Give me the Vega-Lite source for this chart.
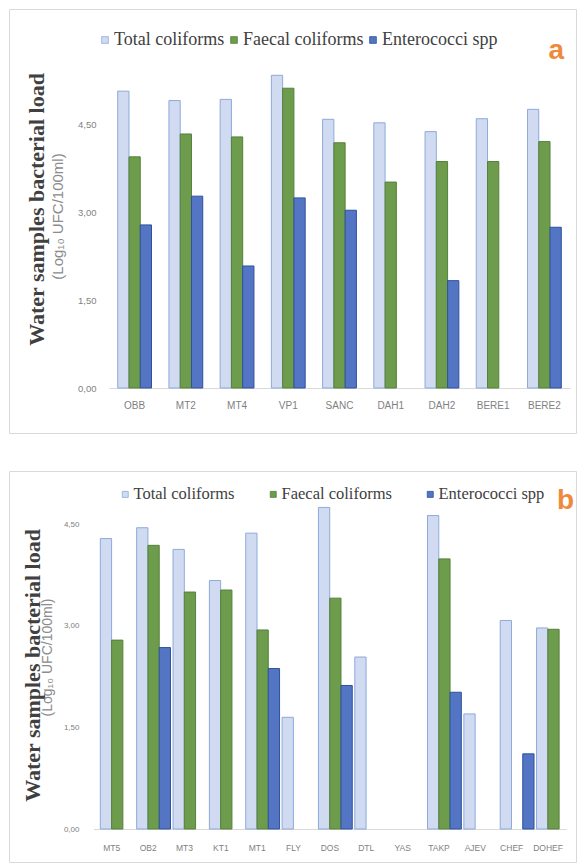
{
  "$schema": "https://vega.github.io/schema/vega-lite/v6.json",
  "background": "white",
  "padding": {"left": 8, "top": 8, "right": 0, "bottom": 0},
  "spacing": 36,
  "resolve": {"scale": {"fill": "independent", "stroke": "independent"}, "legend": {"fill": "independent", "stroke": "independent"}},
  "datasets": {
    "a": [
      {"site": "OBB", "type": "Total coliforms", "value": 5.06},
      {"site": "OBB", "type": "Faecal coliforms", "value": 3.94},
      {"site": "OBB", "type": "Enterococci spp", "value": 2.78},
      {"site": "MT2", "type": "Total coliforms", "value": 4.90},
      {"site": "MT2", "type": "Faecal coliforms", "value": 4.33},
      {"site": "MT2", "type": "Enterococci spp", "value": 3.27},
      {"site": "MT4", "type": "Total coliforms", "value": 4.92},
      {"site": "MT4", "type": "Faecal coliforms", "value": 4.28},
      {"site": "MT4", "type": "Enterococci spp", "value": 2.08},
      {"site": "VP1", "type": "Total coliforms", "value": 5.33},
      {"site": "VP1", "type": "Faecal coliforms", "value": 5.11},
      {"site": "VP1", "type": "Enterococci spp", "value": 3.24},
      {"site": "SANC", "type": "Total coliforms", "value": 4.58},
      {"site": "SANC", "type": "Faecal coliforms", "value": 4.18},
      {"site": "SANC", "type": "Enterococci spp", "value": 3.03},
      {"site": "DAH1", "type": "Total coliforms", "value": 4.52},
      {"site": "DAH1", "type": "Faecal coliforms", "value": 3.51},
      {"site": "DAH2", "type": "Total coliforms", "value": 4.37},
      {"site": "DAH2", "type": "Faecal coliforms", "value": 3.86},
      {"site": "DAH2", "type": "Enterococci spp", "value": 1.83},
      {"site": "BERE1", "type": "Total coliforms", "value": 4.59},
      {"site": "BERE1", "type": "Faecal coliforms", "value": 3.86},
      {"site": "BERE2", "type": "Total coliforms", "value": 4.75},
      {"site": "BERE2", "type": "Faecal coliforms", "value": 4.20},
      {"site": "BERE2", "type": "Enterococci spp", "value": 2.74}
    ],
    "b": [
      {"site": "MT5", "type": "Total coliforms", "value": 4.29},
      {"site": "MT5", "type": "Faecal coliforms", "value": 2.79},
      {"site": "OB2", "type": "Total coliforms", "value": 4.45},
      {"site": "OB2", "type": "Faecal coliforms", "value": 4.19},
      {"site": "OB2", "type": "Enterococci spp", "value": 2.68},
      {"site": "MT3", "type": "Total coliforms", "value": 4.13},
      {"site": "MT3", "type": "Faecal coliforms", "value": 3.50},
      {"site": "KT1", "type": "Total coliforms", "value": 3.67},
      {"site": "KT1", "type": "Faecal coliforms", "value": 3.53},
      {"site": "MT1", "type": "Total coliforms", "value": 4.37},
      {"site": "MT1", "type": "Faecal coliforms", "value": 2.94},
      {"site": "MT1", "type": "Enterococci spp", "value": 2.37},
      {"site": "FLY", "type": "Total coliforms", "value": 1.65},
      {"site": "DOS", "type": "Total coliforms", "value": 4.75},
      {"site": "DOS", "type": "Faecal coliforms", "value": 3.41},
      {"site": "DOS", "type": "Enterococci spp", "value": 2.12},
      {"site": "DTL", "type": "Total coliforms", "value": 2.54},
      {"site": "TAKP", "type": "Total coliforms", "value": 4.63},
      {"site": "TAKP", "type": "Faecal coliforms", "value": 3.99},
      {"site": "TAKP", "type": "Enterococci spp", "value": 2.02},
      {"site": "AJEV", "type": "Total coliforms", "value": 1.70},
      {"site": "CHEF", "type": "Total coliforms", "value": 3.08},
      {"site": "CHEF", "type": "Enterococci spp", "value": 1.11},
      {"site": "DOHEF", "type": "Total coliforms", "value": 2.97},
      {"site": "DOHEF", "type": "Faecal coliforms", "value": 2.95}
    ]
  },
  "config": {
    "view": {"stroke": "#d9d9d9", "strokeWidth": 1},
    "axis": {"grid": false, "ticks": false, "labelOverlap": false}
  },
  "vconcat": [
    {
      "width": 567,
      "height": 424,
      "data": {"name": "a"},
      "title": {"text": "a", "orient": "top", "anchor": "end", "frame": "group", "offset": -70, "baseline": "middle", "dx": -12, "color": "#ef8a3c", "font": "Liberation Sans", "fontSize": 28, "fontWeight": "bold"},
      "layer": [
        {
          "mark": {"type": "bar", "strokeWidth": 1},
          "encoding": {
            "x": {"field": "site", "type": "nominal",
              "scale": {"domain": ["OBB", "MT2", "MT4", "VP1", "SANC", "DAH1", "DAH2", "BERE1", "BERE2"], "range": [100, 561], "paddingInner": 0.34, "paddingOuter": 0.17},
              "axis": {"title": null, "labelAngle": 0, "offset": -45, "domainColor": "#d9d9d9", "labelColor": "#7f7f7f", "labelFont": "Liberation Sans", "labelFontSize": 10, "labelPadding": 12}},
            "xOffset": {"field": "type", "type": "nominal", "scale": {"domain": ["Total coliforms", "Faecal coliforms", "Enterococci spp"], "paddingInner": 0}},
            "y": {"field": "value", "type": "quantitative",
              "scale": {"domain": [0, 6], "range": [379, 27], "nice": false},
              "axis": {"title": "Water samples bacterial load", "values": [0, 1.5, 3, 4.5], "labelExpr": "replace(format(datum.value, '.2f'), '.', ',')", "offset": -100, "domain": false, "labelPadding": 13, "labelColor": "#7f7f7f", "labelFont": "Liberation Sans", "labelFontSize": 9.5, "titleX": -73, "titleY": 200, "titleBaseline": "middle", "titleFont": "Liberation Serif", "titleFontSize": 22, "titleFontWeight": "bold", "titleColor": "#404040"}},
            "fill": {"field": "type", "type": "nominal",
              "scale": {"domain": ["Total coliforms", "Faecal coliforms", "Enterococci spp"], "range": ["#d0dbf2", "#6e9c4d", "#5375c4"]},
              "legend": {"title": null, "orient": "none", "legendX": 87, "legendY": 22, "direction": "horizontal", "symbolType": "square", "symbolSize": 45, "symbolStrokeColor": "#8ea9db", "symbolStrokeWidth": 0.8, "labelFont": "Liberation Serif", "labelFontSize": 18, "labelColor": "#404040", "labelOffset": 0, "columnPadding": 0, "labelLimit": 300}},
            "stroke": {"field": "type", "type": "nominal",
              "scale": {"domain": ["Total coliforms", "Faecal coliforms", "Enterococci spp"], "range": ["#8ea9db", "#55803a", "#2e519e"]},
              "legend": null}
          }
        },
        {
          "mark": {"type": "bar", "opacity": 0},
          "encoding": {
            "x": {"field": "site", "type": "nominal"},
            "xOffset": {"field": "type", "type": "nominal"},
            "y": {"field": "value", "type": "quantitative",
              "axis": {"orient": "left", "title": "(Log₁₀ UFC/100ml)", "labels": false, "domain": false, "offset": -100, "titleX": -52, "titleY": 207, "titleBaseline": "middle", "titleFont": "Liberation Sans", "titleFontSize": 15, "titleFontWeight": "normal", "titleColor": "#8c8c8c"}}
          }
        }
      ],
      "resolve": {"axis": {"y": "independent"}}
    },
    {
      "width": 567,
      "height": 391,
      "data": {"name": "b"},
      "title": {"text": "b", "orient": "top", "anchor": "end", "frame": "group", "offset": -58, "baseline": "middle", "dx": -2, "color": "#ef8a3c", "font": "Liberation Sans", "fontSize": 28, "fontWeight": "bold"},
      "layer": [
        {
          "mark": {"type": "bar", "strokeWidth": 1},
          "encoding": {
            "x": {"field": "site", "type": "nominal",
              "scale": {"domain": ["MT5", "OB2", "MT3", "KT1", "MT1", "FLY", "DOS", "DTL", "YAS", "TAKP", "AJEV", "CHEF", "DOHEF"], "range": [84.6, 557.2], "paddingInner": 0.37, "paddingOuter": 0.185},
              "axis": {"title": null, "labelAngle": 0, "offset": -33, "domainColor": "#d9d9d9", "labelColor": "#7f7f7f", "labelFont": "Liberation Sans", "labelFontSize": 8.5, "labelPadding": 14}},
            "xOffset": {"field": "type", "type": "nominal", "scale": {"domain": ["Total coliforms", "Faecal coliforms", "Enterococci spp"], "paddingInner": 0}},
            "y": {"field": "value", "type": "quantitative",
              "scale": {"domain": [0, 5], "range": [358, 19.5], "nice": false},
              "axis": {"title": "Water samples bacterial load", "values": [0, 1.5, 3, 4.5], "labelExpr": "replace(format(datum.value, '.2f'), '.', ',')", "offset": -84.6, "domain": false, "labelPadding": 14.6, "labelColor": "#7f7f7f", "labelFont": "Liberation Sans", "labelFontSize": 8, "titleX": -61.6, "titleY": 194, "titleBaseline": "middle", "titleFont": "Liberation Serif", "titleFontSize": 22, "titleFontWeight": "bold", "titleColor": "#404040"}},
            "fill": {"field": "type", "type": "nominal",
              "scale": {"domain": ["Total coliforms", "Faecal coliforms", "Enterococci spp"], "range": ["#d0dbf2", "#6e9c4d", "#5375c4"]},
              "legend": {"title": null, "orient": "none", "legendX": 108, "legendY": 15, "direction": "horizontal", "symbolType": "square", "symbolSize": 36, "symbolStrokeColor": "#8ea9db", "symbolStrokeWidth": 0.8, "labelFont": "Liberation Serif", "labelFontSize": 16.5, "labelColor": "#404040", "labelOffset": 0, "columnPadding": 30, "labelLimit": 300}},
            "stroke": {"field": "type", "type": "nominal",
              "scale": {"domain": ["Total coliforms", "Faecal coliforms", "Enterococci spp"], "range": ["#8ea9db", "#55803a", "#2e519e"]},
              "legend": null}
          }
        },
        {
          "mark": {"type": "bar", "opacity": 0},
          "encoding": {
            "x": {"field": "site", "type": "nominal"},
            "xOffset": {"field": "type", "type": "nominal"},
            "y": {"field": "value", "type": "quantitative",
              "axis": {"orient": "left", "title": "(Log₁₀ UFC/100ml)", "labels": false, "domain": false, "offset": -84.6, "titleX": -46, "titleY": 186, "titleBaseline": "middle", "titleFont": "Liberation Sans", "titleFontSize": 14, "titleFontWeight": "normal", "titleColor": "#8c8c8c"}}
          }
        }
      ],
      "resolve": {"axis": {"y": "independent"}}
    }
  ]
}
